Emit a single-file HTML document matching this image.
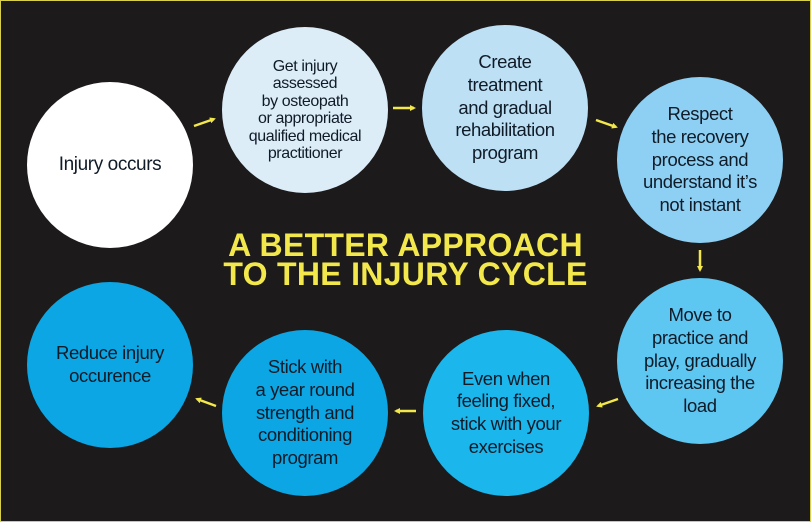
<!DOCTYPE html>
<html><head><meta charset="utf-8"><style>
html,body{margin:0;padding:0}
body{width:811px;height:522px;overflow:hidden;background:#1d1a1b;position:relative;font-family:"Liberation Sans",sans-serif}
.frame{position:absolute;left:0;top:0;width:809px;height:520px;border:1px solid #d8cf4a}
.c{position:absolute;width:166px;height:166px;border-radius:50%;display:flex;align-items:center;justify-content:center;text-align:center;color:#101b28;font-size:18.5px;line-height:22.7px;letter-spacing:-0.4px;box-sizing:border-box;padding:0 4px;white-space:nowrap}
.t{position:absolute;left:0;width:811px;text-align:center;color:#f3e84b;font-weight:bold;font-size:32px;letter-spacing:0.3px}
</style></head><body>
<div class="frame"></div>
<div class="c" style="left:27px;top:82px;background:#ffffff;font-size:19px">Injury occurs</div>
<div class="c" style="left:222px;top:27px;background:#dcedf8;font-size:16px;line-height:17.5px">Get injury<br>assessed<br>by osteopath<br>or appropriate<br>qualified medical<br>practitioner</div>
<div class="c" style="left:422px;top:25px;background:#bde0f5">Create<br>treatment<br>and gradual<br>rehabilitation<br>program</div>
<div class="c" style="left:617px;top:77px;background:#8ed0f3">Respect<br>the recovery<br>process and<br>understand it’s<br>not instant</div>
<div class="c" style="left:617px;top:278px;background:#5dc6f1">Move to<br>practice and<br>play, gradually<br>increasing the<br>load</div>
<div class="c" style="left:423px;top:330px;background:#1bb6ec">Even when<br>feeling fixed,<br>stick with your<br>exercises</div>
<div class="c" style="left:222px;top:330px;background:#0ba6e3">Stick with<br>a year round<br>strength and<br>conditioning<br>program</div>
<div class="c" style="left:27px;top:282px;background:#0ba6e3">Reduce injury<br>occurence</div>
<div class="t" style="top:227px">A BETTER APPROACH</div>
<div class="t" style="top:256px">TO THE INJURY CYCLE</div>
<svg width="811" height="522" style="position:absolute;left:0;top:0">
<defs><marker id="a" markerWidth="6" markerHeight="6" refX="4" refY="3" orient="auto" markerUnits="userSpaceOnUse"><path d="M0,0 L6,3 L0,6 z" fill="#f3e84b"/></marker></defs>
<g stroke="#f3e84b" stroke-width="2.5" marker-end="url(#a)">
<line x1="194" y1="126" x2="214" y2="119"/>
<line x1="393" y1="108" x2="414" y2="108"/>
<line x1="596" y1="120" x2="616" y2="127"/>
<line x1="700" y1="250" x2="700" y2="270"/>
<line x1="618" y1="399" x2="598" y2="406"/>
<line x1="416" y1="411" x2="396" y2="411"/>
<line x1="216" y1="406" x2="197" y2="399"/>
</g></svg>
</body></html>
